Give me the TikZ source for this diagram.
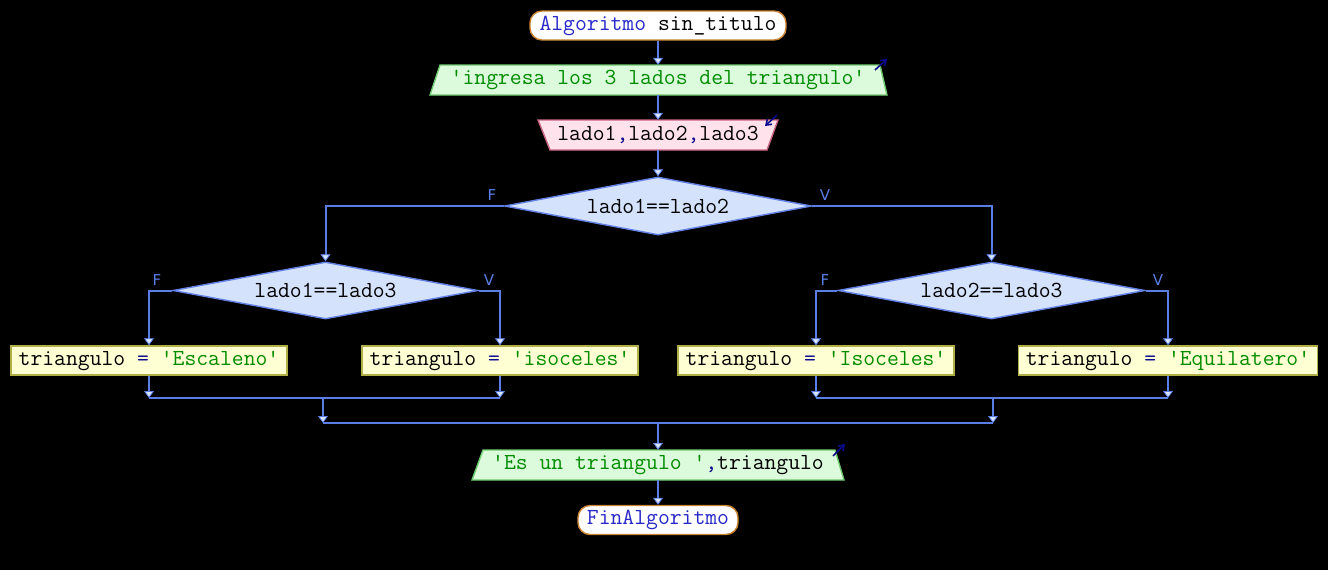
\documentclass[tikz,border=0pt]{standalone}
\usepackage{fontspec}
\setsansfont{DejaVu Sans}
\usetikzlibrary{arrows.meta,shapes.geometric,calc}
\definecolor{linec}{RGB}{90,125,230}
\definecolor{arrfill}{RGB}{215,228,255}
\definecolor{kwblue}{RGB}{40,40,200}
\definecolor{navy}{RGB}{10,10,140}
\definecolor{strgreen}{RGB}{0,140,0}
\definecolor{termborder}{RGB}{200,130,50}
\definecolor{outfill}{RGB}{220,250,220}
\definecolor{outborder}{RGB}{110,200,110}
\definecolor{infill}{RGB}{255,226,236}
\definecolor{inborder}{RGB}{200,100,130}
\definecolor{decfill}{RGB}{212,226,252}
\definecolor{decborder}{RGB}{100,130,230}
\definecolor{asgfill}{RGB}{255,255,212}
\definecolor{asgborder}{RGB}{175,175,70}
\tikzset{
  every node/.style={font=\ttfamily\fontsize{23}{25}\selectfont, inner sep=0pt},
  term/.style={draw=termborder, fill=white, line width=1.4pt, rounded corners=12pt, minimum height=29pt},
  iobox/.style={minimum height=30pt},
  dec/.style={diamond, draw=decborder, fill=decfill, line width=1.4pt, inner sep=0pt, aspect=5.3},
  asg/.style={draw=asgborder, fill=asgfill, line width=1.4pt, minimum height=29pt},
  conn/.style={draw=linec, line width=2pt},
  arr/.style={conn, -{Triangle[width=10pt,length=7pt,fill=arrfill,line width=0.8pt]}},
  lbl/.style={font=\sffamily\fontsize{15}{15}\selectfont, text=linec},
  ioarrow/.style={draw=navy, line width=1.6pt, -{Straight Barb[length=5pt,width=7pt]}},
}
\begin{document}
\begin{tikzpicture}[x=1pt,y=-1pt]
\fill[black] (0,0) rectangle (1328,570);
\useasboundingbox (0,0) rectangle (1328,570);

% start
\node[term, minimum width=256pt] (start) at (658,25.5) {\textcolor{kwblue}{Algoritmo} sin\_titulo};

% output 1
\fill[outfill, draw=outborder, line width=1.4pt] (440,65) -- (880,65) -- (887,95) -- (430,95) -- cycle;
\node[iobox, minimum width=440pt] (o1) at (658,80) {\textcolor{strgreen}{'ingresa los 3 lados del triangulo'}};
\draw[ioarrow] (875,70) -- (887,59);

% input
\fill[infill, draw=inborder, line width=1.4pt] (538,120) -- (778,120) -- (767,150) -- (550,150) -- cycle;
\node[iobox, minimum width=230pt] (i1) at (658,135) {lado1\textcolor{navy}{,}lado2\textcolor{navy}{,}lado3};
\draw[ioarrow] (777,115) -- (765,126);

% decisions
\node[dec, minimum width=307pt, minimum height=58pt] (d1) at (658,206) {lado1==lado2};
\node[dec, minimum width=305pt, minimum height=57pt] (d2) at (325.5,290.5) {lado1==lado3};
\node[dec, minimum width=307pt, minimum height=57pt] (d3) at (991.5,290.5) {lado2==lado3};

% labels
\node[lbl] (f1) at (492,195) {F};
\node[lbl] (v1) at (825,195) {V};
\node[lbl] (f2) at (157,280) {F};
\node[lbl] (v2) at (489,280) {V};
\node[lbl] (f3) at (825,280) {F};
\node[lbl] (v3) at (1158,280) {V};

% assignments
\node[asg, minimum width=276pt] (a1) at (149,360.5) {triangulo \textcolor{navy}{=} \textcolor{strgreen}{'Escaleno'}};
\node[asg, minimum width=276pt] (a2) at (500,360.5) {triangulo \textcolor{navy}{=} \textcolor{strgreen}{'isoceles'}};
\node[asg, minimum width=276pt] (a3) at (816,360.5) {triangulo \textcolor{navy}{=} \textcolor{strgreen}{'Isoceles'}};
\node[asg, minimum width=299pt] (a4) at (1168,360.5) {triangulo \textcolor{navy}{=} \textcolor{strgreen}{'Equilatero'}};

% output 2
\fill[outfill, draw=outborder, line width=1.4pt] (483,450) -- (835,450) -- (844,480) -- (472,480) -- cycle;
\node[iobox, minimum width=355pt] (o2) at (658,465) {\textcolor{strgreen}{'Es un triangulo '}\textcolor{navy}{,}triangulo};
\draw[ioarrow] (833,456) -- (845,444);

% end
\node[term, minimum width=160pt] (fin) at (658,520) {\textcolor{kwblue}{FinAlgoritmo}};

% merge coordinates
\coordinate (m1) at (323,398);
\coordinate (m2) at (993,398);
\coordinate (j) at (658,423);

% connectors
\draw[arr] (start.south) -- (o1.north);
\draw[arr] (o1.south) -- (i1.north);
\draw[arr] (i1.south) -- (d1.north);
\draw[arr] (d1.west) -| (d2.north);
\draw[arr] (d1.east) -| (d3.north);
\draw[arr] (d2.west) -| (a1.north);
\draw[arr] (d2.east) -| (a2.north);
\draw[arr] (d3.west) -| (a3.north);
\draw[arr] (d3.east) -| (a4.north);
\draw[arr] (a1.south) -- (a1.south |- m1);
\draw[arr] (a2.south) -- (a2.south |- m1);
\draw[arr] (a3.south) -- (a3.south |- m2);
\draw[arr] (a4.south) -- (a4.south |- m2);
\draw[conn] (a1.south |- m1) -- (a2.south |- m1);
\draw[conn] (a3.south |- m2) -- (a4.south |- m2);
\draw[arr] (m1) -- (m1 |- j);
\draw[arr] (m2) -- (m2 |- j);
\draw[conn] (m1 |- j) -- (m2 |- j);
\draw[arr] (j) -- (o2.north);
\draw[arr] (o2.south) -- (fin.north);
\end{tikzpicture}
\end{document}
